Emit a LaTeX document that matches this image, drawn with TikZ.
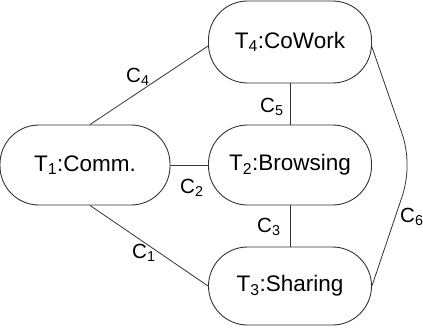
\documentclass[tikz,border=0pt]{standalone}
\usepackage{fontspec}
\setmainfont{Liberation Sans}
\tikzset{
  task/.style={draw=black!80, line width=0.9pt, rectangle, rounded corners=39pt,
               minimum width=163pt, minimum height=80pt, inner sep=0pt,
               font=\fontsize{22.5}{26}\selectfont},
  link/.style={draw=black!80, line width=0.8pt},
  lbl/.style={anchor=base west, inner sep=0pt, font=\fontsize{20.5}{24}\selectfont}
}
\begin{document}
\begin{tikzpicture}[x=1pt,y=-1pt]
  \useasboundingbox (0,0) rectangle (423,329);
  % tasks
  \node[task, minimum width=170pt] (t1) at (85,165) {T\textsubscript{1}:Comm.};
  \node[task] (t2) at (290,165) {T\textsubscript{2}:Browsing};
  \node[task, minimum height=82pt] (t4) at (290,42) {T\textsubscript{4}:CoWork};
  \node[task, minimum height=78pt] (t3) at (290,286) {T\textsubscript{3}:Sharing};
  % bends of the long link
  \coordinate (b1) at (407,148);
  \coordinate (b2) at (407,182);
  % links
  \draw[link] ([xshift=5pt]t1.north) -- ([yshift=-4pt]t4.west);
  \draw[link] ([xshift=5pt]t1.south) -- (t3.west);
  \draw[link] (t1.east) -- (t2.west);
  \draw[link] (t4.south) -- (t2.north);
  \draw[link] (t2.south) -- (t3.north);
  \draw[link, rounded corners=14pt] ([yshift=-5pt]t4.east) -- (b1) -- (b2) -- (t3.east);
  % link labels
  \node[lbl] (c4) at (126,82) {C\textsubscript{4}};
  \node[lbl] (c5) at (260,112) {C\textsubscript{5}};
  \node[lbl] (c2) at (180,193) {C\textsubscript{2}};
  \node[lbl] (c3) at (257,232) {C\textsubscript{3}};
  \node[lbl] (c1) at (132,258) {C\textsubscript{1}};
  \node[lbl] (c6) at (400,222) {C\textsubscript{6}};
\end{tikzpicture}
\end{document}
